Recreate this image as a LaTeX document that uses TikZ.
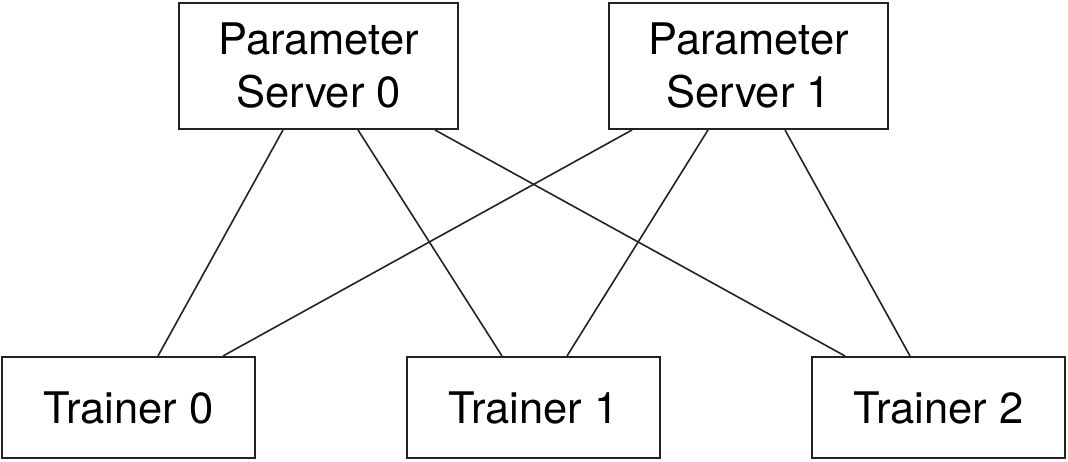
\documentclass[tikz,border=0pt]{standalone}
\usepackage{fontspec}
\setmainfont{TeX Gyre Heros}
\usepackage{tikz}
\usetikzlibrary{positioning, calc}
\usepackage{xcolor}
\definecolor{Ink}{HTML}{222222}

\tikzset{
  server/.style={draw=Ink, line width=2pt, minimum width=279pt, minimum height=126pt,
    inner sep=0pt, align=center, font=\fontsize{43.5}{53}\selectfont},
  trainer/.style={draw=Ink, line width=2pt, minimum width=253pt, minimum height=101pt,
    inner sep=0pt, font=\fontsize{43.5}{53}\selectfont},
  link/.style={draw=Ink, line width=1.6pt}
}

\begin{document}
\begin{tikzpicture}[x=1pt, y=1pt]
  \useasboundingbox (0,0) rectangle (1068,462);
  % parameter servers
  \node[server] (ps0) at (318.5, 396) {Parameter\\Server 0};
  \node[server] (ps1) at (748.5, 396) {Parameter\\Server 1};
  % trainers
  \node[trainer] (t0) at (128.5, 54.5) {Trainer 0};
  \node[trainer] (t1) at (533.5, 54.5) {Trainer 1};
  \node[trainer] (t2) at (938.5, 54.5) {Trainer 2};
  % links between servers and trainers
  \foreach \ps/\a/\tr/\b in {ps0/-35.5/t0/29.5, ps0/39.5/t1/-31.5, ps0/116.5/t2/-93.5,
                             ps1/-116.5/t0/94.5, ps1/-40.5/t1/33.5, ps1/36.5/t2/-28.5} {
    \draw[link] ([xshift=\a]\ps.south) -- ([xshift=\b]\tr.north);
  }
\end{tikzpicture}
\end{document}
